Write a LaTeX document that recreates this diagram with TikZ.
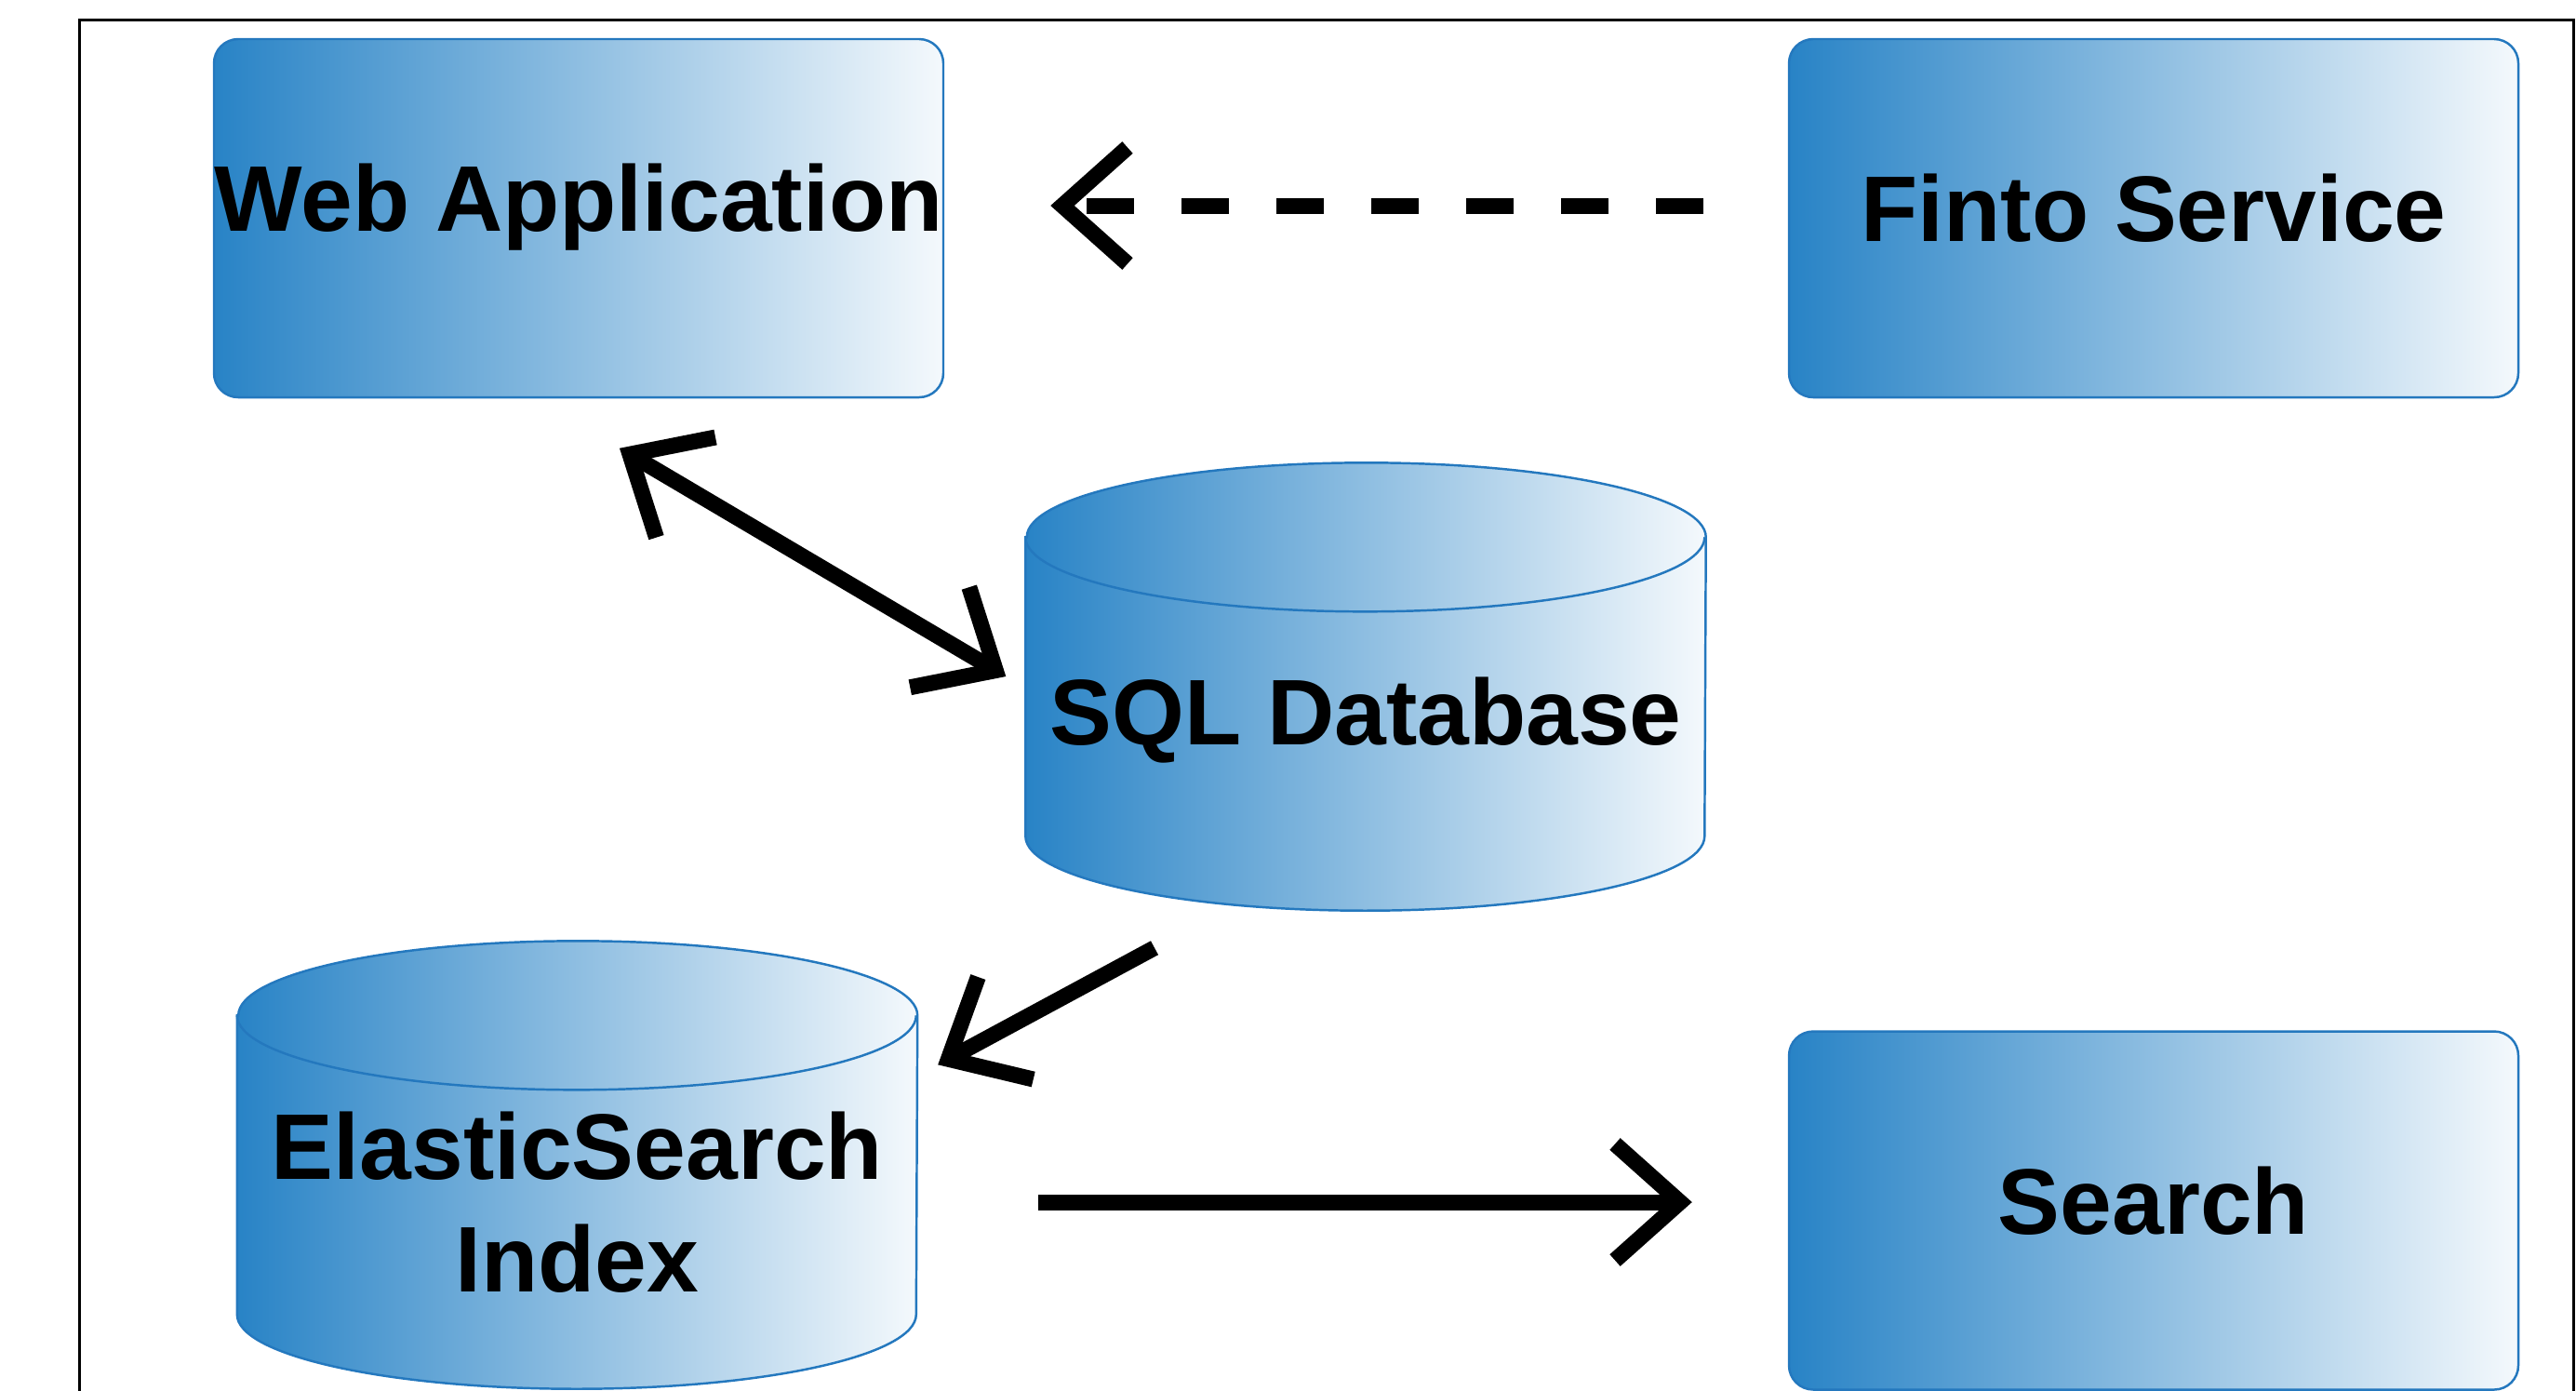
\documentclass[tikz,border=0pt]{standalone}
\usepackage{fontspec}
\setmainfont{Liberation Sans}
\usetikzlibrary{arrows.meta,backgrounds}
\definecolor{dbblue}{RGB}{40,131,198}
\definecolor{dbline}{RGB}{36,120,190}
\tikzset{
  lbl/.style={font=\fontsize{28.5}{34.5}\selectfont\bfseries},
  box/.style={lbl, draw=dbline, line width=0.7pt, rounded corners=0.26cm,
    left color=dbblue, right color=white!95!dbblue,
    minimum width=7.84cm, minimum height=3.85cm, inner sep=0pt,
    text height=0.75cm, text depth=0.25cm},
  db/.style={lbl, minimum width=7.3cm, minimum height=4cm, inner sep=0pt, align=center},
  dbshape/.style={draw=dbline, line width=0.7pt, left color=dbblue, right color=white!95!dbblue},
  barb/.tip={Straight Barb[length=0.7cm,width=1.25cm]},
  arr/.style={line width=0.17cm, -barb},
}
\newcommand{\dbcyl}[1]{%
  \path[dbshape] (#1.north west) -- ([yshift=0.8cm]#1.south west)
    arc[start angle=180,end angle=360,x radius=3.65cm,y radius=0.8cm]
    -- (#1.north east)
    arc[start angle=0,end angle=180,x radius=3.65cm,y radius=0.8cm] -- cycle;
  \draw[dbline, line width=0.7pt] (#1.north west)
    arc[start angle=180,end angle=360,x radius=3.65cm,y radius=0.8cm];}
\begin{document}
\begin{tikzpicture}
  \useasboundingbox (0,0) rectangle (27.69,-14.94);
  \draw[line width=0.03cm] (0.85,-0.21) rectangle (27.66,-16);
  \node[box, text depth=0.48cm] (webapp) at (6.22,-2.345) {Web Application};
  \node[box] (finto) at (23.15,-2.345) {Finto Service};
  \node[box] (search) at (23.15,-13.01) {Search};
  \node[db, text height=0.75cm, text depth=0.3cm] (sql) at (14.68,-7.78) {SQL Database};
  \node[db] (es) at (6.205,-12.92) {ElasticSearch\\Index};
  \begin{scope}[on background layer]
    \dbcyl{sql}
    \dbcyl{es}
  \end{scope}
  \draw[arr, dash pattern=on 0.51cm off 0.51cm, shorten <=0.91cm, shorten >=1.14cm]
    ([yshift=0.135cm]finto.west) -- ([yshift=0.135cm]webapp.east);
  \draw[arr, barb-barb] ([shift={(0.44,-0.535)}]webapp.south) -- ([shift={(-0.21,0.51)}]sql.west);
  \draw[arr] ([shift={(-2.27,-0.4)}]sql.south) -- ([shift={(0.22,-0.53)}]es.north east);
  \draw[arr] ([xshift=1.3cm]es.east) -- ([shift={(-1.03,0.09)}]search.west);
\end{tikzpicture}
\end{document}
